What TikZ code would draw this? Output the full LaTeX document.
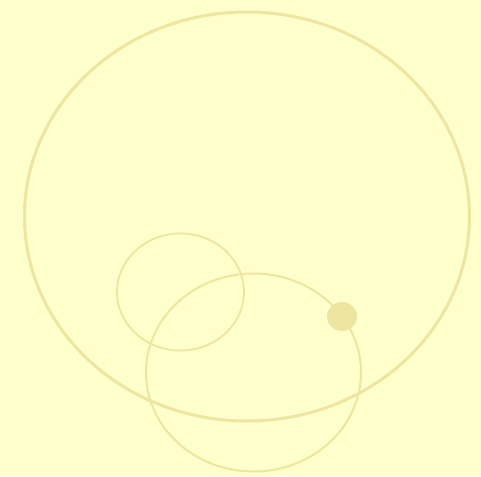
\documentclass[tikz,border=0pt]{standalone}
\definecolor{bgc}{HTML}{FFFFCC}
\definecolor{linec}{HTML}{EEE6A0}
\tikzset{ring/.style={draw=linec}}
\begin{document}
\begin{tikzpicture}[x=1pt,y=-1pt]
\fill[bgc] (0,0) rectangle (481,476);
\useasboundingbox (0,0) rectangle (481,476);
\draw[ring,line width=3pt] (247,216.5) ellipse [x radius=222.5, y radius=204.5];
\draw[ring,line width=1.8pt] (180.5,292) ellipse [x radius=63.5, y radius=58.5];
\draw[ring,line width=2pt] (253.5,372.5) ellipse [x radius=107.5, y radius=99];
\fill[linec] (342,316.5) ellipse [x radius=15, y radius=14.5];
\end{tikzpicture}
\end{document}
